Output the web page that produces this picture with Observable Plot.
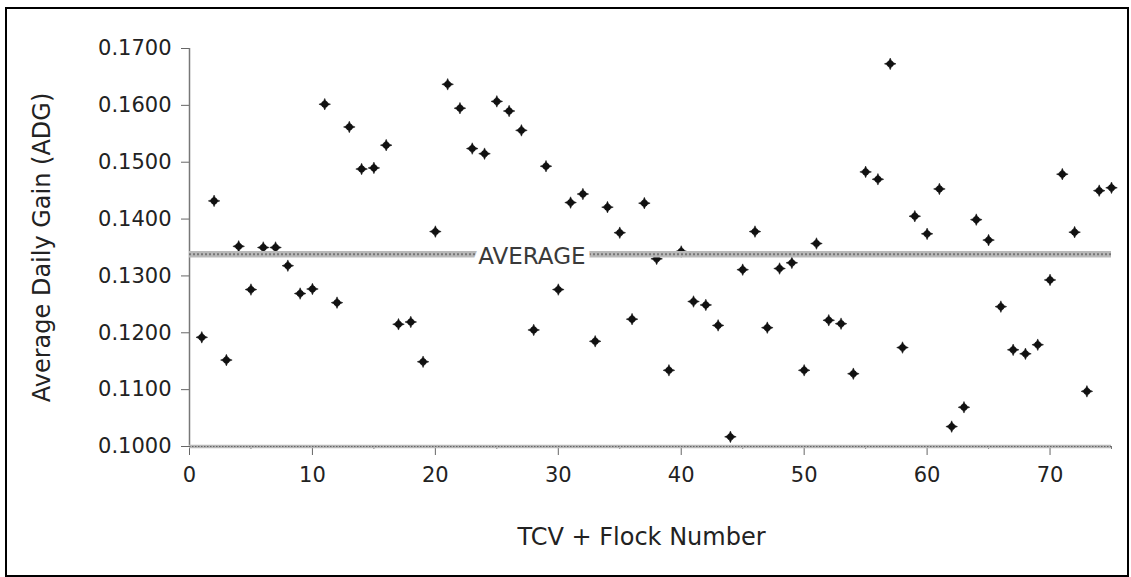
<!DOCTYPE html>
<html>
<head>
<meta charset="utf-8">
<script src="https://cdn.jsdelivr.net/npm/d3@7"></script>
<script src="https://cdn.jsdelivr.net/npm/@observablehq/plot@0.6"></script>
<style>
html, body { margin: 0; padding: 0; background: #fff; }
#wrap { position: relative; width: 1131px; height: 577px; overflow: hidden; }
#frame { position: absolute; left: 5px; top: 7px; width: 1124px; height: 570px; border: 2.5px solid #000; box-sizing: border-box; pointer-events: none; }
</style>
</head>
<body>
<div id="wrap"><div id="frame"></div></div>
<script>
// ---- data ----
const flockNumbers = [
  1, 2, 3, 4, 5, 6, 7, 8, 9, 10, 11, 12, 13, 14, 15, 16, 17, 18, 19, 20,
  21, 22, 23, 24, 25, 26, 27, 28, 29, 30, 31, 32, 33, 34, 35, 36, 37, 38, 39, 40,
  41, 42, 43, 44, 45, 46, 47, 48, 49, 50, 51, 52, 53, 54, 55, 56, 57, 58, 59, 60,
  61, 62, 63, 64, 65, 66, 67, 68, 69, 70, 71, 72, 73, 74, 75
];
const adgValues = [
  0.1192, 0.1432, 0.1152, 0.1352, 0.1276, 0.1350, 0.1350, 0.1318, 0.1269, 0.1277,
  0.1602, 0.1253, 0.1562, 0.1488, 0.1490, 0.1530, 0.1215, 0.1219, 0.1149, 0.1378,
  0.1637, 0.1595, 0.1524, 0.1515, 0.1607, 0.1590, 0.1556, 0.1205, 0.1493, 0.1276,
  0.1429, 0.1444, 0.1185, 0.1421, 0.1376, 0.1224, 0.1428, 0.1330, 0.1134, 0.1343,
  0.1255, 0.1249, 0.1213, 0.1017, 0.1311, 0.1378, 0.1209, 0.1313, 0.1323, 0.1134,
  0.1357, 0.1222, 0.1216, 0.1128, 0.1483, 0.1470, 0.1673, 0.1174, 0.1405, 0.1374,
  0.1453, 0.1035, 0.1069, 0.1399, 0.1363, 0.1246, 0.1170, 0.1163, 0.1179, 0.1293,
  0.1479, 0.1377, 0.1097, 0.1450, 0.1455
];
const averageADG = 0.1338;
const averageLabel = "AVERAGE";
const yTicks = [0.10, 0.11, 0.12, 0.13, 0.14, 0.15, 0.16, 0.17];
const xMajorTicks = [0, 10, 20, 30, 40, 50, 60, 70];
const xMinorTicks = [5, 15, 25, 35, 45, 55, 65, 75];
const xLabel = "TCV + Flock Number";
const yLabel = "Average Daily Gain (ADG)";

// ---- build table ----
const points = flockNumbers.map((f, i) => ({flock: f, adg: adgValues[i]}));

// four-pointed star marker with a rounded body
const star4 = {
  draw(context, size) {
    const R = Math.sqrt(size / Math.PI);
    const k = R * 0.3;
    context.moveTo(0, -R);
    context.lineTo(k, -k);
    context.lineTo(R, 0);
    context.lineTo(k, k);
    context.lineTo(0, R);
    context.lineTo(-k, k);
    context.lineTo(-R, 0);
    context.lineTo(-k, -k);
    context.closePath();
    const c = R * 0.55;
    context.moveTo(c, 0);
    context.arc(0, 0, c, 0, 2 * Math.PI);
    context.closePath();
  }
};

const chart = Plot.plot({
  width: 1131,
  height: 577,
  marginLeft: 189,
  marginRight: 20,
  marginTop: 48,
  marginBottom: 131,
  style: {fontFamily: "'DejaVu Sans', sans-serif", fontSize: "21px", color: "#222", background: "transparent"},
  x: {domain: [0, 75], label: null},
  y: {domain: [0.10, 0.17], label: null},
  marks: [
    Plot.axisY({ticks: yTicks, tickFormat: d => d.toFixed(4), tickSize: 8, tickPadding: 10, stroke: "#666", label: null, fontSize: 21}),
    Plot.axisX({ticks: xMajorTicks, tickFormat: d => String(d), tickSize: 9, tickPadding: 12, stroke: "#666", label: null, fontSize: 21}),
    Plot.axisX({ticks: xMinorTicks, tickFormat: () => "", tickSize: 3, stroke: "#777", label: null}),
    Plot.ruleX([0], {stroke: "#777", strokeWidth: 1.5}),
    Plot.ruleY([0.10], {stroke: "#b8b8b8", strokeWidth: 3.5}),
    Plot.ruleY([0.10], {stroke: "#666", strokeWidth: 1.2, strokeDasharray: "1.5,1.5"}),
    Plot.dot(points, {x: "flock", y: "adg", symbol: star4, r: 5.8, fill: "#111", stroke: "#111", strokeWidth: 0.5}),
    Plot.ruleY([averageADG], {stroke: "#b9b9b9", strokeWidth: 6.5}),
    Plot.ruleY([averageADG], {stroke: "#777", strokeWidth: 2, strokeDasharray: "2,2"}),
    Plot.text([averageLabel], {x: 27.85, y: averageADG, dy: 2, fontSize: 23, fill: "#3a3a3a", stroke: "white", strokeWidth: 12, paintOrder: "stroke", strokeLinejoin: "round"}),
    Plot.text([yLabel], {frameAnchor: "left", textAnchor: "middle", dx: -147, rotate: -90, fontSize: 24, fill: "#222"}),
    Plot.text([xLabel], {frameAnchor: "bottom", dx: -9, dy: 98, fontSize: 24, fill: "#222"})
  ]
});
document.getElementById("wrap").insertBefore(chart, document.getElementById("frame"));
</script>
</body>
</html>
